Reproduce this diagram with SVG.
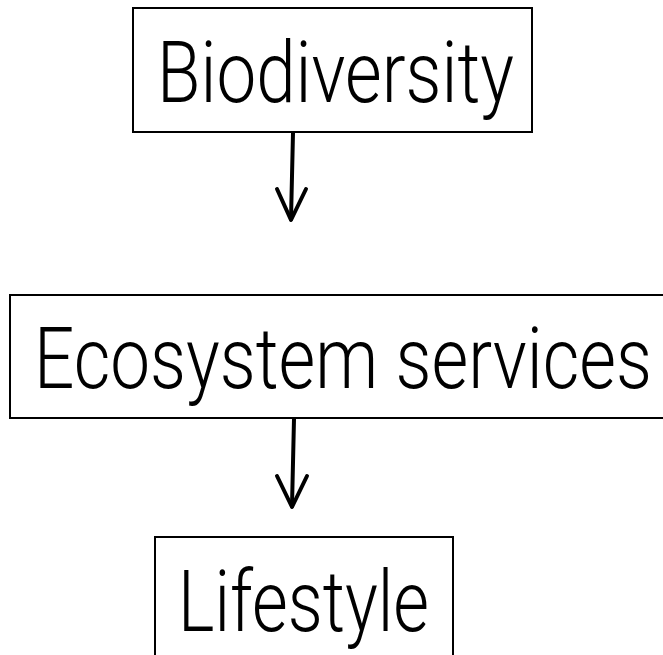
<svg xmlns="http://www.w3.org/2000/svg" width="663" height="655" viewBox="0 0 663 655">
  <style>
    .box { fill: #ffffff; stroke: #000000; stroke-width: 2; }
    .label { font-family: Roboto, "Liberation Sans Narrow", "Liberation Sans", sans-serif; font-weight: 350; font-size: 85px; fill: #000000; }
    .arrow { fill: none; stroke: #000000; stroke-width: 4; stroke-linecap: round; stroke-linejoin: round; }
  </style>
  <rect width="663" height="655" fill="#ffffff"/>
  <g id="node-biodiversity">
    <rect class="box" x="133" y="8" width="399" height="124"/>
    <text class="label" x="157" y="102" textLength="357" lengthAdjust="spacingAndGlyphs">Biodiversity</text>
  </g>
  <g id="node-ecosystem-services">
    <rect class="box" x="10" y="295" width="670" height="123"/>
    <text class="label" x="34" y="388" textLength="618" lengthAdjust="spacingAndGlyphs">Ecosystem services</text>
  </g>
  <g id="node-lifestyle">
    <rect class="box" x="155" y="537" width="298" height="130"/>
    <text class="label" x="178" y="631" textLength="251" lengthAdjust="spacingAndGlyphs">Lifestyle</text>
  </g>
  <g id="connectors">
    <path class="arrow" d="M293,133 L291,219"/>
    <path class="arrow" d="M277,189 L291,220 L306,189"/>
    <path class="arrow" d="M294,419 L292,506"/>
    <path class="arrow" d="M277,476 L292,507 L307,476"/>
  </g>
</svg>
